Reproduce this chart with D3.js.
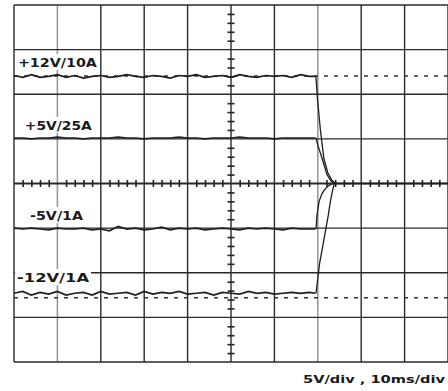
<!DOCTYPE html>
<html>
<head>
<meta charset="utf-8">
<script src="https://cdn.jsdelivr.net/npm/d3@7"></script>
<style>
  body { margin: 0; background: #fff; }
  svg { display: block; }
</style>
</head>
<body>
<svg id="scope" width="448" height="391"></svg>
<script>
const svg = d3.select("#scope")

// time base 10 ms/div, vertical 5 V/div
const timeSpan = [0, 100]
const voltSpan = [20, -20]
const gridTimes = [0, 10, 20, 30, 40, 50, 60, 70, 80, 90, 100]
const fadedTimes = [10, 70]
const gridVolts = [20, 15, 10, 5, 0, -5, -10, -15, -20]
const minorTimes = [2,4,6,8,12,14,16,18,22,24,26,28,32,34,36,38,42,44,46,48,52,54,56,58,62,64,66,68,72,74,76,78,82,84,86,88,92,94,96,98]
const minorVolts = [19,18,17,16,14,13,12,11,9,8,7,6,4,3,2,1,-1,-2,-3,-4,-6,-7,-8,-9,-11,-12,-13,-14,-16,-17,-18,-19]

// traces before the supply is switched off (ms)
const sampleTimes = [0,2,4,6,8,10,12,14,16,18,20,22,24,26,28,30,32,34,36,38,40,42,44,46,48,50,52,54,56,58,60,62,64,66,68,69.5]
const plus12 = [12.1,11.9,12.2,11.9,12.0,12.2,11.9,12.1,11.8,12.0,12.1,11.9,12.0,12.2,12.0,11.9,12.1,12.0,11.8,12.1,12.0,12.2,11.9,12.0,12.1,11.9,12.2,12.0,11.9,12.1,12.0,12.1,11.9,12.2,12.0,12.0]
const plus5 = [5.1,5.1,5.0,5.1,5.1,5.2,5.1,5.1,5.0,5.1,5.1,5.1,5.2,5.1,5.1,5.0,5.1,5.1,5.1,5.2,5.1,5.1,5.0,5.1,5.1,5.1,5.2,5.1,5.1,5.1,5.0,5.1,5.1,5.1,5.1,5.1]
const minus5 = [-5.0,-5.1,-5.0,-5.1,-5.2,-5.0,-5.1,-5.1,-5.0,-5.2,-5.1,-5.3,-4.8,-5.1,-5.0,-5.2,-5.1,-4.9,-5.2,-5.0,-5.1,-5.0,-5.2,-5.1,-5.0,-5.1,-5.2,-5.0,-5.1,-5.0,-5.1,-5.2,-5.0,-5.1,-5.1,-5.1]
const minus12 = [-12.3,-12.1,-12.5,-12.2,-12.4,-12.1,-12.5,-12.3,-12.2,-12.5,-12.1,-12.4,-12.3,-12.2,-12.5,-12.1,-12.4,-12.2,-12.3,-12.1,-12.4,-12.3,-12.2,-12.5,-12.2,-12.3,-12.4,-12.1,-12.3,-12.2,-12.4,-12.3,-12.2,-12.3,-12.2,-12.3]

// decay after switch off
const decayP12T = [69.5, 69.6, 69.9, 70.6, 71.4, 72.3, 73.2, 74.0]
const decayP12V = [12.0, 11.8, 9.6, 6.0, 2.8, 1.2, 0.4, 0.0]
const decayP5T = [69.6, 70.0, 71.0, 72.1, 73.0, 73.8]
const decayP5V = [5.1, 4.3, 2.8, 1.0, 0.3, 0.0]
const decayN5T = [69.6, 69.8, 70.3, 71.0, 71.7, 72.6, 73.5]
const decayN5V = [-5.1, -3.6, -2.0, -1.1, -0.6, -0.2, 0.0]
const decayN12T = [69.6, 70.4, 71.7, 72.4, 72.9, 73.4, 73.8]
const decayN12V = [-12.3, -9.0, -5.5, -3.6, -2.0, -0.8, 0.0]
const settledT = [73.8, 100]
const settledV = [0, 0]

// dashed reference levels
const refLevels = [12.05, -12.8]

const labels = ["+12V/10A", "+5V/25A", "-5V/1A", "-12V/1A"]
const labelVolts = [13.05, 6.0, -4.1, -11.05]
const labelTimes = [0.9, 2.5, 3.7, 0.7]
const labelWidths = [79, 67, 53, 72]
const caption = "5V/div , 10ms/div"

const x = d3.scaleLinear().domain(timeSpan).range([14, 448])
const y = d3.scaleLinear().domain(voltSpan).range([5, 362])

// grid
const gridColor = t => fadedTimes.includes(t) ? "#9a9a9a" : "#2a2a2a"
svg.append("g").selectAll("line").data(gridTimes).join("line")
  .attr("x1", d => x(d)).attr("x2", d => x(d))
  .attr("y1", y(20)).attr("y2", y(-20))
  .attr("stroke", gridColor)
  .attr("stroke-width", d => fadedTimes.includes(d) ? 1.6 : 1.4)

svg.append("g").selectAll("line").data(gridVolts).join("line")
  .attr("x1", x(0)).attr("x2", x(100))
  .attr("y1", d => y(d)).attr("y2", d => y(d))
  .attr("stroke", "#2a2a2a")
  .attr("stroke-width", d => d === 0 ? 1.8 : 1.4)

// center graticule ticks
svg.append("g")
  .attr("transform", `translate(0,${y(0) - 3.5})`)
  .call(d3.axisBottom(x).tickValues(minorTimes).tickSize(7).tickFormat(""))
  .call(g => g.select(".domain").remove())
  .selectAll("line").attr("stroke", "#222").attr("stroke-width", 1.6)

svg.append("g")
  .attr("transform", `translate(${x(50) + 3.5},0)`)
  .call(d3.axisLeft(y).tickValues(minorVolts).tickSize(7).tickFormat(""))
  .call(g => g.select(".domain").remove())
  .selectAll("line").attr("stroke", "#222").attr("stroke-width", 1.6)

// dashed reference levels
svg.append("g").selectAll("line").data(refLevels).join("line")
  .attr("x1", x(0)).attr("x2", x(100))
  .attr("y1", d => y(d)).attr("y2", d => y(d))
  .attr("stroke", "#333")
  .attr("stroke-width", 1.5)
  .attr("stroke-dasharray", "4,6")

// labels with white backing
const labelG = svg.append("g")
labels.forEach((txt, i) => {
  const tx = x(labelTimes[i])
  const ty = y(labelVolts[i])
  labelG.append("rect")
    .attr("x", tx - 2).attr("y", ty - 13)
    .attr("width", labelWidths[i] + 4).attr("height", 16)
    .attr("fill", "#fff")
  labelG.append("text")
    .attr("x", tx).attr("y", ty)
    .attr("font-family", "DejaVu Sans")
    .attr("font-weight", "bold")
    .attr("font-size", 13)
    .attr("fill", "#1a1a1a")
    .attr("textLength", labelWidths[i])
    .attr("lengthAdjust", "spacingAndGlyphs")
    .text(txt)
})

// traces
const line = d3.line().x(d => x(d[0])).y(d => y(d[1]))
const pair = (ts, vs) => ts.map((t, i) => [t, vs[i]])
const traces = [
  pair(sampleTimes, plus12),
  pair(sampleTimes, plus5),
  pair(sampleTimes, minus5),
  pair(sampleTimes, minus12),
  pair(decayP12T, decayP12V),
  pair(decayP5T, decayP5V),
  pair(decayN5T, decayN5V),
  pair(decayN12T, decayN12V),
  pair(settledT, settledV)
]
svg.append("g").selectAll("path").data(traces).join("path")
  .attr("d", line)
  .attr("fill", "none")
  .attr("stroke", "#1e1e1e")
  .attr("stroke-width", (d, i) => i < 4 ? 1.7 : 1.3)

svg.append("text")
  .attr("x", 445).attr("y", 383)
  .attr("text-anchor", "end")
  .attr("font-family", "DejaVu Sans")
  .attr("font-weight", "bold")
  .attr("font-size", 11)
  .attr("fill", "#1a1a1a")
  .attr("textLength", 142)
  .attr("lengthAdjust", "spacingAndGlyphs")
  .text(caption)
</script>
</body>
</html>
